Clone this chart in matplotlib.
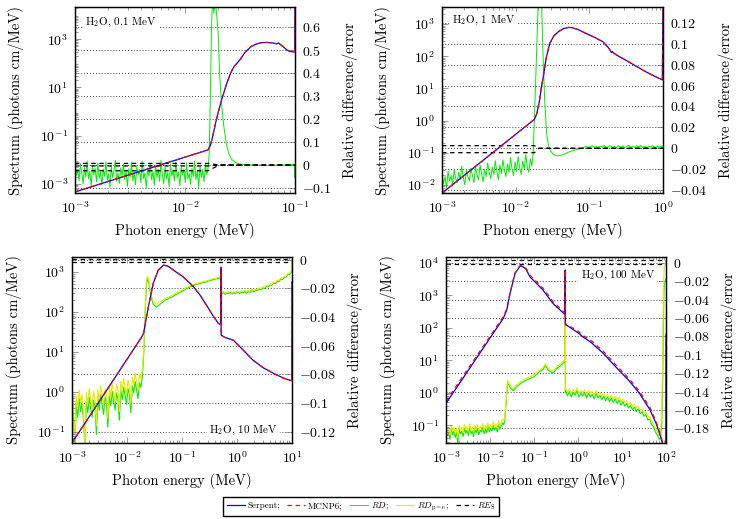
import numpy as np
import matplotlib.pyplot as plt
from matplotlib.ticker import FixedLocator, LogLocator, FuncFormatter, LogFormatterMathtext, NullFormatter

plt.rcParams['font.family'] = 'serif'
plt.rcParams['font.serif'] = ['cmr10', 'DejaVu Serif']
plt.rcParams['mathtext.fontset'] = 'cm'
plt.rcParams['axes.formatter.use_mathtext'] = True
plt.rcParams['axes.unicode_minus'] = False

# ---------------- H2O, 0.1 MeV ----------------
p1_E = [1e-3, 0.0162, 0.0170, 0.0178, 0.0190, 0.0200, 0.0212, 0.0225, 0.0240, 0.0260, 0.0280,
        0.0316, 0.0350, 0.0400, 0.0450, 0.0500, 0.0560, 0.0630, 0.0680, 0.0710, 0.0730, 0.0780,
        0.0840, 0.0900, 0.0960, 0.0995, 0.1000]
p1_serpent = [4.7e-4, 0.026, 0.04, 0.09, 0.35, 0.9, 2.4, 6, 15, 40, 75, 140, 280, 500, 640, 720,
              730, 690, 640, 700, 620, 490, 360, 310, 295, 300, 3e4]
p1_mcnp6 = [4.7e-4, 0.026, 0.04, 0.09, 0.35, 0.9, 2.4, 6, 15, 40, 75, 140, 280, 500, 640, 720,
            730, 690, 640, 700, 620, 490, 360, 310, 295, 300, 3e4]
p1_rd_noise = [0.012, -0.045, -0.02, -0.068, 0.005, -0.033, -0.082, -0.011, -0.052, 0.018,
               -0.06, -0.027, -0.091, -0.004, -0.041, -0.015, -0.074, 0.009, -0.057, -0.03,
               -0.086, -0.018, -0.049, 0.014, -0.066, -0.038, -0.097, -0.008, -0.055, -0.022,
               0.02, -0.071, -0.035, -0.079, -0.012, -0.046, 0.003, -0.063, -0.025, -0.093,
               -0.016, -0.052, 0.011, -0.069, -0.031, -0.085, -0.006, -0.044, -0.02, -0.077,
               0.016, -0.058, -0.036, -0.1, -0.013, -0.048, 0.007, -0.065, -0.028, -0.088,
               -0.002, -0.054, -0.019, -0.072, 0.021, -0.04, -0.081, -0.01, -0.061, -0.033,
               -0.095, 0.004, -0.047, -0.024, -0.07, 0.013, -0.056, -0.03, -0.09, -0.007,
               -0.043, -0.017, -0.076, 0.01, -0.059, -0.037, -0.084, -0.014, -0.05, 0.017,
               -0.064, -0.026, -0.098, -0.005, -0.053, -0.021, -0.073, 0.008, -0.042, -0.012]
p1_rd_E = [0.0166, 0.0170, 0.0174, 0.0178, 0.0183, 0.0188, 0.0195, 0.0200, 0.0206, 0.0213, 0.0220,
           0.0228, 0.0238, 0.0250, 0.0265, 0.0285, 0.0310, 0.0350, 0.0450, 0.0600, 0.0800, 0.0950,
           0.0990, 0.0995, 0.1000]
p1_rd = [0.05, 0.3, 0.6, 0.72, 0.66, 0.72, 0.64, 0.58, 0.4, 0.29, 0.21, 0.15, 0.09, 0.05, 0.025,
         0.012, 0.005, 0.001, 0.0, -0.002, 0.0, 0.002, 0.0, -0.055, 0.0]
p1_re_E = [1e-3, 0.0162, 0.0205, 0.1]
p1_re_hi = [0.007, 0.007, 0.0, 0.0]
p1_re_mid = [-0.004, -0.004, 0.0, 0.0]
p1_re_lo = [-0.025, -0.025, 0.0, 0.0]

# ---------------- H2O, 1 MeV ----------------
p2_E = [1e-3, 0.018, 0.0193, 0.021, 0.0225, 0.0237, 0.026, 0.029, 0.033, 0.038, 0.045, 0.052,
        0.058, 0.07, 0.09, 0.12, 0.153, 0.18, 0.195, 0.2, 0.205, 0.215, 0.25, 0.3, 0.44, 0.6,
        0.8, 0.98, 1.0]
p2_serpent = [5.6e-3, 1.1, 1.6, 4, 12, 23, 90, 250, 430, 580, 730, 790, 780, 680, 515, 380, 282,
              190, 145, 130, 140, 125, 100, 80, 48, 32, 23, 18.5, 5e3]
p2_mcnp6 = [5.6e-3, 1.1, 1.6, 4, 12, 23, 90, 250, 430, 580, 730, 790, 780, 680, 515, 380, 282,
            190, 145, 130, 140, 125, 100, 80, 48, 32, 23, 18.5, 5e3]
p2_rd_noise = [-0.024, -0.034, -0.027, -0.038, -0.022, -0.031, -0.026, -0.036, -0.02, -0.029,
               -0.033, -0.023, -0.03, -0.017, -0.028, -0.035, -0.021, -0.027, -0.031, -0.019,
               -0.026, -0.033, -0.018, -0.025, -0.03, -0.016, -0.024, -0.032, -0.02, -0.027,
               -0.014, -0.023, -0.029, -0.018, -0.025, -0.012, -0.022, -0.03, -0.016, -0.024,
               -0.011, -0.021, -0.027, -0.015, -0.023, -0.009, -0.02, -0.026, -0.013, -0.022,
               -0.008, -0.019, -0.025, -0.012, -0.02, -0.006, -0.018, -0.023, -0.01, -0.017]
p2_rd_E = [0.0173, 0.0180, 0.0188, 0.0196, 0.0203, 0.0214, 0.0225, 0.0235, 0.0248, 0.0264, 0.028,
           0.030, 0.033, 0.036, 0.040, 0.046, 0.055, 0.065, 0.080]
p2_rd = [-0.005, 0.03, 0.07, 0.11, 0.14, 0.15, 0.14, 0.09, 0.045, 0.013, 0.002, -0.003, -0.006,
         -0.0073, -0.007, -0.0055, -0.003, -0.0015, 0.0]
p2_rd_tail = [0.001, 0.002, 0.0005, 0.0015, 0.0025, 0.0008, 0.0018, 0.0003, 0.0022, 0.0012,
              0.0028, 0.0006, 0.0017, 0.0024, 0.0009, 0.0019, 0.0004, 0.0026, 0.0011, 0.0021,
              0.0007, 0.0016, 0.003, 0.001, 0.002, 0.0005, 0.0023, 0.0013, 0.0027, 0.0008,
              0.0018, 0.0003, 0.0022, 0.0012, 0.0025, 0.0007, 0.0017, 0.0009, 0.002, 0.0012]
p2_re_E = [1e-3, 0.018, 0.0205, 1.0]
p2_re_hi = [0.0025, 0.0025, 0.0, 0.0]
p2_re_lo = [-0.0042, -0.0042, 0.0, 0.0]

# ---------------- H2O, 10 MeV ----------------
p3_E = [1e-3, 0.0187, 0.020, 0.0245, 0.030, 0.037, 0.046, 0.055, 0.070, 0.105, 0.16, 0.21, 0.30,
        0.37, 0.46, 0.505, 0.511, 0.515, 0.60, 0.86, 1.3, 1.95, 3.0, 4.6, 7.0, 9.1, 9.95, 10.0]
p3_serpent = [0.053, 24, 29, 134, 515, 1100, 1470, 1400, 1100, 750, 430, 270, 125, 78, 51, 48,
              1300, 26, 23, 19.5, 11, 6.2, 4.0, 2.9, 2.2, 1.95, 1.9, 560]
p3_mcnp6 = [0.053, 24, 29, 134, 515, 1100, 1470, 1400, 1100, 750, 430, 270, 125, 78, 51, 48,
            1300, 26, 23, 19.5, 11, 6.2, 4.0, 2.9, 2.2, 1.95, 1.9, 560]
p3_rd_noise = [-0.098, -0.108, -0.13, -0.101, -0.11, -0.097, -0.106, -0.1, -0.112, -0.13, -0.099,
               -0.107, -0.096, -0.104, -0.11, -0.098, -0.103, -0.122, -0.097, -0.105, -0.094,
               -0.101, -0.108, -0.096, -0.1, -0.117, -0.095, -0.102, -0.092, -0.099, -0.105,
               -0.093, -0.097, -0.112, -0.091, -0.098, -0.089, -0.095, -0.101, -0.09, -0.094,
               -0.107, -0.088, -0.093, -0.085, -0.091, -0.097, -0.086, -0.089, -0.082]
p3_pe_noise = [-0.092, -0.103, -0.128, -0.095, -0.104, -0.091, -0.1, -0.094, -0.107, -0.13,
               -0.093, -0.101, -0.09, -0.098, -0.105, -0.092, -0.097, -0.116, -0.091, -0.099,
               -0.088, -0.095, -0.102, -0.09, -0.094, -0.111, -0.089, -0.096, -0.086, -0.093,
               -0.099, -0.087, -0.091, -0.106, -0.085, -0.092, -0.083, -0.089, -0.095, -0.084,
               -0.088, -0.101, -0.082, -0.087, -0.079, -0.085, -0.091, -0.08, -0.083, -0.077]
p3_mid_E = [0.0195, 0.0205, 0.0215, 0.0225, 0.0235, 0.025, 0.027, 0.030, 0.034, 0.040, 0.050,
            0.065, 0.080, 0.10, 0.13, 0.17, 0.21, 0.27, 0.35, 0.45, 0.505, 0.511]
p3_rd_mid = [-0.075, -0.06, -0.035, -0.018, -0.013, -0.016, -0.025, -0.031, -0.033, -0.031,
             -0.028, -0.026, -0.024, -0.022, -0.0195, -0.0175, -0.0165, -0.0155, -0.014, -0.013,
             -0.0125, -0.0235]
p3_pe_mid = [-0.072, -0.056, -0.031, -0.015, -0.0115, -0.014, -0.023, -0.029, -0.031, -0.029,
             -0.027, -0.025, -0.023, -0.021, -0.0188, -0.0168, -0.0158, -0.0148, -0.0134,
             -0.0124, -0.0119, -0.023]
p3_rd_tail = [-0.0238, -0.0228, -0.0241, -0.0230, -0.0236, -0.0226, -0.0239, -0.0229, -0.0234,
              -0.0224, -0.0236, -0.0226, -0.0231, -0.0220, -0.0232, -0.0222, -0.0226, -0.0214,
              -0.0224, -0.0212, -0.0216, -0.0203, -0.0210, -0.0196, -0.0200, -0.0186, -0.0190,
              -0.0175, -0.0178, -0.0163, -0.0166, -0.0150, -0.0152, -0.0136, -0.0138, -0.0122,
              -0.0120, -0.0104, -0.0100, -0.0085]
p3_pe_tail = [-0.0230, -0.0220, -0.0233, -0.0222, -0.0228, -0.0218, -0.0231, -0.0221, -0.0226,
              -0.0216, -0.0228, -0.0218, -0.0223, -0.0212, -0.0224, -0.0214, -0.0218, -0.0206,
              -0.0216, -0.0204, -0.0208, -0.0195, -0.0202, -0.0188, -0.0192, -0.0178, -0.0182,
              -0.0167, -0.0170, -0.0155, -0.0158, -0.0142, -0.0144, -0.0128, -0.0130, -0.0114,
              -0.0112, -0.0096, -0.0092, -0.0077]
p3_re_E = [1e-3, 10.0]
p3_re_hi = [0.0006, 0.0006]
p3_re_lo = [-0.0012, -0.0012]

# ---------------- H2O, 100 MeV ----------------
p4_E = [1e-3, 0.02, 0.024, 0.0285, 0.037, 0.048, 0.056, 0.065, 0.081, 0.115, 0.16, 0.27, 0.47,
        0.505, 0.511, 0.515, 0.55, 1.0, 1.3, 2.0, 3.8, 7.0, 15, 25, 43, 60, 75, 90, 99, 100]
p4_serpent = [0.47, 195, 350, 1150, 4700, 7900, 7600, 6500, 3700, 2300, 1450, 560, 280, 260,
              6000, 125, 120, 70, 52, 35, 16, 6.5, 2.2, 0.95, 0.3, 0.11, 0.045, 0.018, 0.01, 63]
p4_mcnp6 = [0.55, 220, 380, 1200, 4900, 8200, 8000, 7000, 4100, 2600, 1650, 640, 310, 290, 6000,
            130, 128, 78, 58, 40, 18.5, 7.5, 2.55, 1.1, 0.35, 0.125, 0.05, 0.02, 0.011, 63]
p4_rd_noise = [-0.182, -0.188, -0.185, -0.192, -0.18, -0.187, -0.183, -0.19, -0.184, -0.196,
               -0.181, -0.186, -0.183, -0.189, -0.18, -0.185, -0.182, -0.188, -0.179, -0.186,
               -0.183, -0.189, -0.181, -0.185, -0.18, -0.187, -0.182, -0.184, -0.179, -0.186,
               -0.181, -0.185, -0.178, -0.184, -0.18, -0.183, -0.177, -0.182, -0.179, -0.184,
               -0.176, -0.181, -0.178, -0.174, -0.176]
p4_pe_noise = [-0.178, -0.185, -0.181, -0.188, -0.177, -0.183, -0.179, -0.186, -0.18, -0.19,
               -0.177, -0.182, -0.179, -0.185, -0.176, -0.181, -0.178, -0.184, -0.175, -0.182,
               -0.179, -0.185, -0.177, -0.181, -0.176, -0.183, -0.178, -0.18, -0.175, -0.182,
               -0.177, -0.181, -0.174, -0.18, -0.176, -0.179, -0.173, -0.178, -0.175, -0.18,
               -0.172, -0.177, -0.174, -0.17, -0.172]
p4_mid_E = [0.0215, 0.023, 0.025, 0.027, 0.030, 0.034, 0.040, 0.050, 0.065, 0.080, 0.10, 0.13,
            0.16, 0.178, 0.19, 0.21, 0.27, 0.33, 0.40, 0.46, 0.505, 0.511, 0.515]
p4_rd_mid = [-0.172, -0.155, -0.131, -0.133, -0.137, -0.139, -0.135, -0.131, -0.128, -0.126,
             -0.124, -0.119, -0.116, -0.112, -0.113, -0.117, -0.12, -0.115, -0.112, -0.109,
             -0.108, -0.008, -0.141]
p4_pe_mid = [-0.169, -0.151, -0.128, -0.131, -0.135, -0.137, -0.133, -0.129, -0.126, -0.124,
             -0.122, -0.117, -0.114, -0.110, -0.111, -0.115, -0.118, -0.113, -0.110, -0.107,
             -0.106, -0.008, -0.138]
p4_rd_tail = [-0.139, -0.145, -0.140, -0.146, -0.141, -0.144, -0.139, -0.146, -0.142, -0.145,
              -0.141, -0.147, -0.142, -0.146, -0.143, -0.148, -0.142, -0.147, -0.144, -0.149,
              -0.145, -0.150, -0.146, -0.151, -0.147, -0.152, -0.148, -0.153, -0.149, -0.155,
              -0.151, -0.156, -0.153, -0.158, -0.155, -0.160, -0.157, -0.162, -0.159, -0.164,
              -0.162, -0.167, -0.165, -0.171, -0.170, -0.176, -0.178, -0.184, -0.187, -0.192]
p4_pe_tail = [-0.136, -0.141, -0.137, -0.142, -0.138, -0.141, -0.136, -0.142, -0.139, -0.141,
              -0.138, -0.143, -0.139, -0.142, -0.140, -0.144, -0.139, -0.143, -0.141, -0.145,
              -0.142, -0.146, -0.143, -0.147, -0.144, -0.148, -0.145, -0.149, -0.146, -0.151,
              -0.148, -0.152, -0.150, -0.154, -0.152, -0.156, -0.154, -0.158, -0.156, -0.160,
              -0.159, -0.163, -0.162, -0.167, -0.167, -0.172, -0.175, -0.180, -0.184, -0.188]
p4_end_E = [75, 80, 84, 87, 90, 95, 100]
p4_rd_end = [-0.19, -0.175, -0.13, -0.07, -0.03, -0.02, -0.018]
p4_pe_end = [-0.186, -0.16, -0.1, -0.04, -0.01, 0.0, 0.002]
p4_re_E = [1e-3, 100.0]
p4_re_hi = [0.003, 0.003]
p4_re_lo = [-0.001, -0.001]

BLUE, RED, GREEN, YELLOW = '#0000ff', '#ff0000', '#00ee00', '#e8e800'

fig = plt.figure(figsize=(7.37, 5.19), dpi=100)


def rel_fmt(v, pos):
    return '$%g$' % round(v, 4)


def panel(rect, xlim, ylim, rlim, yticks, rticks, xticks):
    ax = fig.add_axes(rect)
    ax.set_xscale('log')
    ax.set_yscale('log')
    ax.set_xlim(xlim)
    ax.set_ylim(ylim)
    ax.xaxis.set_major_locator(FixedLocator(xticks))
    ax.yaxis.set_major_locator(FixedLocator(yticks))
    for a in (ax.xaxis, ax.yaxis):
        a.set_major_formatter(LogFormatterMathtext())
        a.set_minor_locator(LogLocator(base=10, subs=np.arange(2, 10), numticks=100))
        a.set_minor_formatter(NullFormatter())
    ax.tick_params(which='both', direction='in', top=True, right=False, color='0.45',
                   width=0.5, labelsize=10, pad=5)
    ax.tick_params(which='major', length=4)
    ax.tick_params(which='minor', length=2)
    ax.set_xlabel('Photon energy (MeV)', fontsize=10.5, labelpad=5)
    ax.set_ylabel('Spectrum (photons cm/MeV)', fontsize=10.5, labelpad=11)

    tw = ax.twinx()
    tw.set_ylim(rlim)
    tw.yaxis.set_major_locator(FixedLocator(rticks))
    tw.yaxis.set_major_formatter(FuncFormatter(rel_fmt))
    tw.tick_params(direction='in', length=4, width=0.5, color='0.45', labelsize=10, pad=5)
    tw.grid(axis='y', ls=(0, (1, 2.5)), color='k', lw=0.6)
    tw.set_ylabel('Relative difference/error', fontsize=10.5, labelpad=8)
    for s in list(ax.spines.values()) + list(tw.spines.values()):
        s.set_linewidth(0.9)
    ax.set_zorder(tw.get_zorder() + 1)
    ax.patch.set_visible(False)
    return ax, tw


def tag(ax, txt, x, y, ha):
    ax.text(x, y, txt, transform=ax.transAxes, ha=ha, va='center', fontsize=8,
            bbox=dict(facecolor='white', edgecolor='none', pad=1.5))


LW = 0.9
DASH = (0, (3.5, 3))

# panel 1
ax, tw = panel([0.1018, 0.628, 0.2985, 0.3584], (1e-3, 1e-1), (10 ** -3.375, 10 ** 4.33),
               (-0.122, 0.687), [1e-3, 1e-1, 1e1, 1e3], [-0.1, 0, 0.1, 0.2, 0.3, 0.4, 0.5, 0.6],
               [1e-3, 1e-2, 1e-1])
h_serp, = ax.plot(p1_E, p1_serpent, color=BLUE, lw=LW)
h_mcnp, = ax.plot(p1_E, p1_mcnp6, color=RED, lw=LW, ls=DASH)
h_rd, = tw.plot(list(np.geomspace(1e-3, 0.0162, len(p1_rd_noise))) + p1_rd_E,
                p1_rd_noise + p1_rd, color=GREEN, lw=0.7)
h_re, = tw.plot(p1_re_E, p1_re_hi, color='k', lw=LW, ls=DASH)
tw.plot(p1_re_E, p1_re_mid, color='k', lw=LW, ls=DASH)
tw.plot(p1_re_E, p1_re_lo, color='k', lw=LW, ls=DASH)
tag(ax, 'H$_2$O, 0.1 MeV', 0.045, 0.92, 'left')

# panel 2
ax, tw = panel([0.5997, 0.628, 0.2999, 0.3584], (1e-3, 1.0), (10 ** -2.25, 10 ** 3.53),
               (-0.0428, 0.135), [1e-2, 1e-1, 1e0, 1e1, 1e2, 1e3],
               [-0.04, -0.02, 0, 0.02, 0.04, 0.06, 0.08, 0.1, 0.12], [1e-3, 1e-2, 1e-1, 1e0])
ax.plot(p2_E, p2_serpent, color=BLUE, lw=LW)
ax.plot(p2_E, p2_mcnp6, color=RED, lw=LW, ls=DASH)
tw.plot(list(np.geomspace(1e-3, 0.0166, len(p2_rd_noise))) + p2_rd_E
        + list(np.geomspace(0.085, 1.0, len(p2_rd_tail))),
        p2_rd_noise + p2_rd + p2_rd_tail, color=GREEN, lw=0.7)
tw.plot(p2_re_E, p2_re_hi, color='k', lw=LW, ls=DASH)
tw.plot(p2_re_E, p2_re_lo, color='k', lw=LW, ls=DASH)
tag(ax, 'H$_2$O, 1 MeV', 0.045, 0.927, 'left')

# panel 3
ax, tw = panel([0.0977, 0.1464, 0.2985, 0.3584], (1e-3, 10.0), (10 ** -1.28, 10 ** 3.37),
               (-0.128, 0.002), [1e-1, 1e0, 1e1, 1e2, 1e3],
               [-0.12, -0.1, -0.08, -0.06, -0.04, -0.02, 0], [1e-3, 1e-2, 1e-1, 1e0, 1e1])
ax.plot(p3_E, p3_serpent, color=BLUE, lw=LW)
ax.plot(p3_E, p3_mcnp6, color=RED, lw=LW, ls=DASH)
x3 = (list(np.geomspace(1e-3, 0.019, len(p3_rd_noise))) + p3_mid_E
      + list(np.geomspace(0.52, 9.8, len(p3_rd_tail))) + [10.0])
tw.plot(x3, p3_rd_noise + p3_rd_mid + p3_rd_tail + [-0.001], color=GREEN, lw=0.8)
h_pe, = tw.plot(x3, p3_pe_noise + p3_pe_mid + p3_pe_tail + [0.0], color=YELLOW, lw=0.8)
tw.plot(p3_re_E, p3_re_hi, color='k', lw=LW, ls=DASH)
tw.plot(p3_re_E, p3_re_lo, color='k', lw=LW, ls=DASH)
tag(ax, 'H$_2$O, 10 MeV', 0.935, 0.07, 'right')

# panel 4
ax, tw = panel([0.6052, 0.1464, 0.2985, 0.3584], (1e-3, 100.0), (10 ** -1.55, 10 ** 4.18),
               (-0.196, 0.0062), [1e-1, 1e0, 1e1, 1e2, 1e3, 1e4],
               [-0.18, -0.16, -0.14, -0.12, -0.1, -0.08, -0.06, -0.04, -0.02, 0],
               [1e-3, 1e-2, 1e-1, 1e0, 1e1, 1e2])
ax.plot(p4_E, p4_serpent, color=BLUE, lw=LW)
ax.plot(p4_E, p4_mcnp6, color=RED, lw=LW, ls=DASH)
x4 = (list(np.geomspace(1e-3, 0.0205, len(p4_rd_noise))) + p4_mid_E
      + list(np.geomspace(0.52, 70, len(p4_rd_tail))) + p4_end_E)
tw.plot(x4, p4_rd_noise + p4_rd_mid + p4_rd_tail + p4_rd_end, color=GREEN, lw=0.8)
tw.plot(x4, p4_pe_noise + p4_pe_mid + p4_pe_tail + p4_pe_end, color=YELLOW, lw=0.8)
tw.plot(p4_re_E, p4_re_hi, color='k', lw=LW, ls=DASH)
tw.plot(p4_re_E, p4_re_lo, color='k', lw=LW, ls=DASH)
tag(ax, 'H$_2$O, 100 MeV', 0.95, 0.903, 'right')

fig.legend([h_serp, h_mcnp, h_rd, h_pe, h_re],
           ['Serpent;', 'MCNP6;', '$RD$;', '$RD_{\\mathrm{p=e}}$;', '$RE_{\\mathrm{S}}$'],
           loc='center', bbox_to_anchor=(0.49, 0.024), ncol=5, fontsize=6.5,
           frameon=True, fancybox=False, edgecolor='k', framealpha=1, handlelength=2.0,
           columnspacing=0.8, handletextpad=0.3, borderpad=0.4)

fig.savefig('out.png', dpi=100)
